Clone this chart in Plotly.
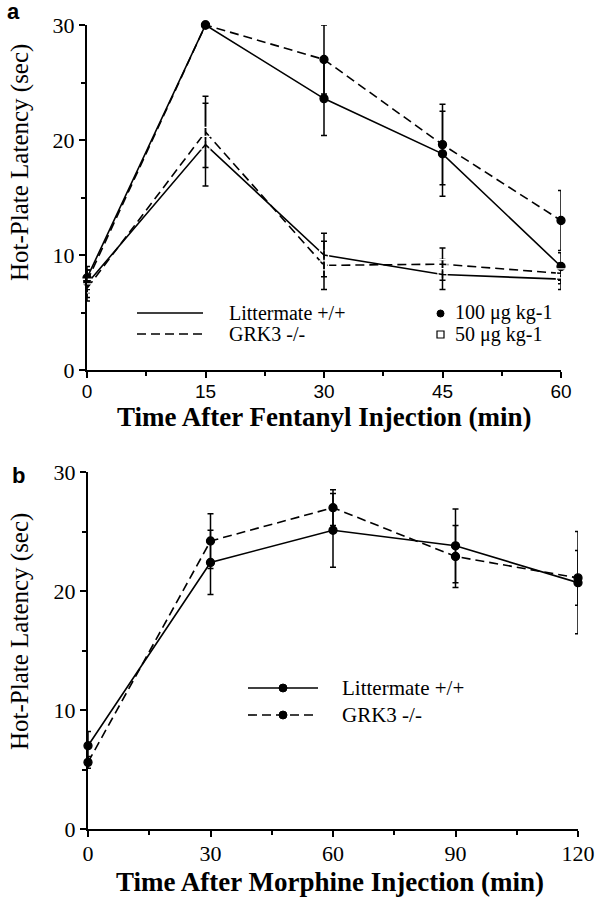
import plotly.graph_objects as go

# ---------------- data ----------------
# Panel a: fentanyl
time_a = [0, 15, 30, 45, 60]
lit_100 = [8.0, 30.0, 23.6, 18.8, 9.0]
lit_100_err = [1.0, 0.0, 3.2, 3.7, 1.2]
grk_100 = [7.7, 30.0, 27.0, 19.6, 13.0]
grk_100_err = [1.0, 0.0, 3.0, 3.5, 2.6]
lit_50 = [7.5, 19.6, 10.0, 8.3, 7.9]
lit_50_err = [1.2, 3.6, 1.9, 1.3, 0.9]
grk_50 = [7.1, 20.7, 9.1, 9.2, 8.4]
grk_50_err = [1.1, 3.1, 2.1, 1.4, 0.9]

# Panel b: morphine
time_b = [0, 30, 60, 90, 120]
lit_m = [7.0, 22.4, 25.1, 23.8, 20.7]
lit_m_err = [1.2, 2.7, 3.1, 3.1, 4.3]
grk_m = [5.6, 24.2, 27.0, 22.9, 21.1]
grk_m_err = [0.5, 2.3, 1.5, 2.6, 2.3]

xticks_a = [0, 15, 30, 45, 60]
xticks_b = [0, 30, 60, 90, 120]
yticks = [0, 10, 20, 30]

W, H = 598, 900
SERIF = "Liberation Serif, Times New Roman, serif"
SANS = "Liberation Sans, Arial, sans-serif"


def px(x):
    return x / W


def py(y):
    return 1 - y / H


fig = go.Figure()


def add(xs, ys, err, dash, symbol, xa, ya, msize=8):
    fig.add_trace(go.Scatter(
        x=xs, y=ys, mode="lines+markers", xaxis=xa, yaxis=ya,
        line=dict(color="black", width=1.6, dash=dash),
        marker=dict(symbol=symbol, size=msize, color="black" if "open" not in symbol else "white",
                    line=dict(color="black", width=1.3)),
        error_y=dict(type="data", array=err, visible=True, color="black", thickness=1.5, width=3),
        cliponaxis=False, showlegend=False, hoverinfo="skip",
    ))


DASH = "9px,5px"
add(time_a, lit_100, lit_100_err, "solid", "circle", "x", "y")
add(time_a, grk_100, grk_100_err, DASH, "circle", "x", "y")
add(time_a, lit_50, lit_50_err, "solid", "square-open", "x", "y", 9)
add(time_a, grk_50, grk_50_err, DASH, "square-open", "x", "y", 9)
add(time_b, lit_m, lit_m_err, "solid", "circle", "x2", "y2")
add(time_b, grk_m, grk_m_err, DASH, "circle", "x2", "y2")

axis_common = dict(showline=True, linecolor="black", linewidth=2, ticks="outside",
                   ticklen=6, tickwidth=1.5, tickcolor="black", showgrid=False,
                   zeroline=False, fixedrange=True, automargin=False)

fig.update_layout(
    width=W, height=H, margin=dict(l=0, r=0, t=0, b=0, autoexpand=False),
    paper_bgcolor="white", plot_bgcolor="white", showlegend=False,
    xaxis=dict(domain=[px(87), px(561)], range=[0, 60], anchor="y",
               tickvals=xticks_a, tickfont=dict(family=SANS, size=19, color="black"),
               ticklabelstandoff=-3,
               minor=dict(dtick=7.5, ticks="outside", ticklen=4, tickwidth=1.5, tickcolor="black"),
               **axis_common),
    yaxis=dict(domain=[py(370), py(25)], range=[0, 30], anchor="x",
               tickvals=yticks, tickfont=dict(family=SERIF, size=22, color="black"),
               minor=dict(dtick=5, ticks="outside", ticklen=4, tickwidth=1.5, tickcolor="black"),
               **axis_common),
    xaxis2=dict(domain=[px(88), px(578)], range=[0, 120], anchor="y2",
                tickvals=xticks_b, tickfont=dict(family=SERIF, size=22, color="black"),
                ticklabelstandoff=-2,
                minor=dict(dtick=15, ticks="outside", ticklen=4, tickwidth=1.5, tickcolor="black"),
                **axis_common),
    yaxis2=dict(domain=[py(829), py(472)], range=[0, 30], anchor="x2",
                tickvals=yticks, tickfont=dict(family=SERIF, size=22, color="black"),
                minor=dict(dtick=5, ticks="outside", ticklen=4, tickwidth=1.5, tickcolor="black"),
                **axis_common),
)

ann = []
# panel letters
ann.append(dict(text="<b>a</b>", x=px(5), y=py(11), xanchor="left", yanchor="middle",
                font=dict(family=SANS, size=22, color="black")))
ann.append(dict(text="<b>b</b>", x=px(10), y=py(476), xanchor="left", yanchor="middle",
                font=dict(family=SANS, size=22, color="black")))
# axis titles
ann.append(dict(text="Hot-Plate Latency (sec)", x=px(20), y=py(163), textangle=-90,
                xanchor="center", yanchor="middle", font=dict(family=SERIF, size=25, color="black")))
ann.append(dict(text="Hot-Plate Latency (sec)", x=px(20), y=py(632), textangle=-90,
                xanchor="center", yanchor="middle", font=dict(family=SERIF, size=25, color="black")))
ann.append(dict(text="<b>Time After Fentanyl Injection (min)</b>", x=px(324), y=py(417),
                xanchor="center", yanchor="middle", font=dict(family=SERIF, size=27, color="black")))
ann.append(dict(text="<b>Time After Morphine Injection (min)</b>", x=px(330), y=py(882),
                xanchor="center", yanchor="middle", font=dict(family=SERIF, size=27, color="black")))
# legend texts panel a
for t, xx, yy in [("Littermate +/+", 227, 313), ("GRK3 -/-", 227, 334),
                  ("100 \u03bcg kg-1", 453, 313), ("50 \u03bcg kg-1", 453, 334)]:
    ann.append(dict(text=t, x=px(xx), y=py(yy), xanchor="left", yanchor="middle",
                    font=dict(family=SERIF, size=20, color="black")))
# legend texts panel b
for t, xx, yy in [("Littermate +/+", 340, 688), ("GRK3 -/-", 340, 715)]:
    ann.append(dict(text=t, x=px(xx), y=py(yy), xanchor="left", yanchor="middle",
                    font=dict(family=SERIF, size=21, color="black")))
for a in ann:
    a.update(xref="paper", yref="paper", showarrow=False)
fig.update_layout(annotations=ann)

shapes = []
# legend keys panel a
shapes.append(dict(type="line", x0=px(137), x1=px(203), y0=py(313), y1=py(313),
                   line=dict(color="black", width=1.6)))
shapes.append(dict(type="line", x0=px(137), x1=px(203), y0=py(334), y1=py(334),
                   line=dict(color="black", width=1.6, dash=DASH)))
shapes.append(dict(type="circle", x0=px(437), x1=px(444), y0=py(310), y1=py(317),
                   fillcolor="black", line=dict(color="black", width=1)))
shapes.append(dict(type="rect", x0=px(437), x1=px(444), y0=py(331), y1=py(338),
                   fillcolor="white", line=dict(color="black", width=1.2)))
# legend keys panel b
shapes.append(dict(type="line", x0=px(248), x1=px(318), y0=py(688), y1=py(688),
                   line=dict(color="black", width=1.6)))
shapes.append(dict(type="line", x0=px(248), x1=px(318), y0=py(715), y1=py(715),
                   line=dict(color="black", width=1.6, dash=DASH)))
for yy in (688, 715):
    shapes.append(dict(type="circle", x0=px(279), x1=px(287), y0=py(yy - 4), y1=py(yy + 4),
                       fillcolor="black", line=dict(color="black", width=1)))
for s in shapes:
    s.update(xref="paper", yref="paper")
fig.update_layout(shapes=shapes)

fig.write_html("out.html", config={"displayModeBar": False},
               post_script="document.body.style.margin='0';document.body.style.padding='0';")
